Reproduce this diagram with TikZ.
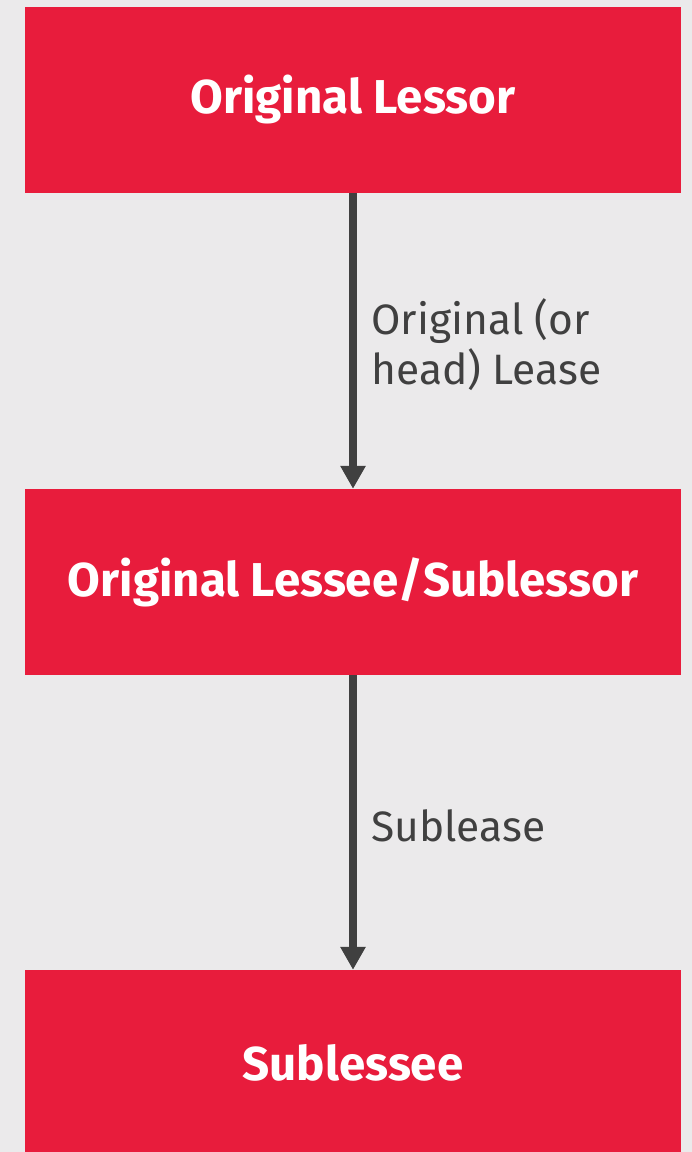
\documentclass[tikz,border=0pt]{standalone}
\usepackage{fontspec}
\setmainfont{Fira Sans}
\usetikzlibrary{arrows.meta}
\definecolor{leasered}{HTML}{E81C3C}
\definecolor{leasegray}{HTML}{404040}
\definecolor{leasebg}{HTML}{EBEAEB}
\begin{document}
\begin{tikzpicture}[
    x=1pt, y=-1pt,
    party/.style={rectangle, fill=leasered, minimum width=656pt, minimum height=186pt, inner sep=0pt, text=white, font=\fontsize{47.5}{52}\selectfont\bfseries},
    lease/.style={draw=leasegray, line width=8pt, -{Triangle[width=24pt,length=23pt]}},
    leaselabel/.style={anchor=west, align=left, text=leasegray, font=\fontsize{42.5}{50}\selectfont}
]
% background
\fill[leasebg] (0,0) rectangle (692,1152);
\useasboundingbox (0,0) rectangle (692,1152);

% parties
\node[party] (lessor) at (353,100) {Original Lessor};
\node[party] (sublessor) at (353,582) {Original Lessee/Sublessor};
\node[party] (sublessee) at (353,1063) {Sublessee};

% leases
\draw[lease] (lessor.south) -- (sublessor.north);
\draw[lease] (sublessor.south) -- (sublessee.north);

% lease labels
\node[leaselabel] (headlease) at (368,345) {Original (or\\head) Lease};
\node[leaselabel] (sublease) at (368,826) {Sublease};
\end{tikzpicture}
\end{document}
